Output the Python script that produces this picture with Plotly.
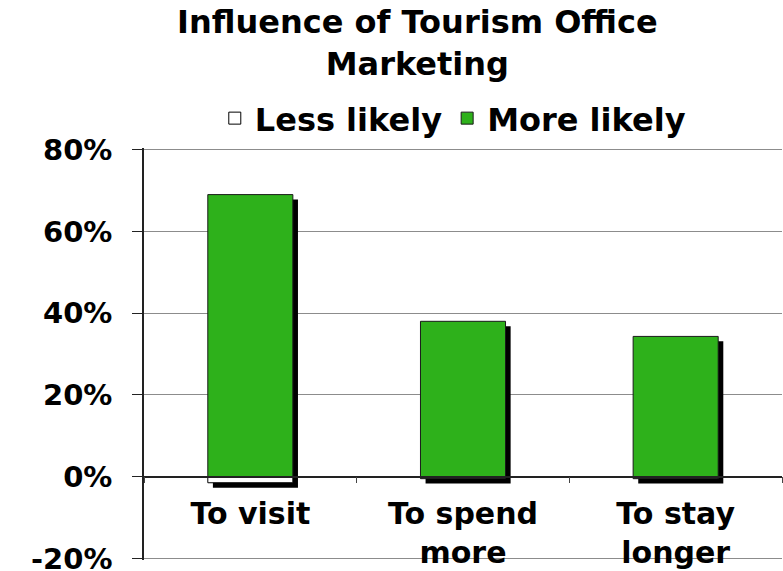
import plotly.graph_objects as go

categories = ["To visit", "To spend<br>more", "To stay<br>longer"]
less_likely = [-1.5, -0.5, -0.5]
more_likely = [69.0, 38.0, 34.3]
y_ticks = [-20, 0, 20, 40, 60, 80]
y_tick_labels = ["-20%", "0%", "20%", "40%", "60%", "80%"]
title_text = "Influence of Tourism Office<br>Marketing"

FONT = "DejaVu Sans"
GREEN = "#2EB11B"
BAR_W = 0.4
SH_X = 0.024   # shadow offset in category units
SH_Y = 1.2     # shadow offset in data units
Y_MIN, Y_MAX = -20.4, 80.4

fig = go.Figure()

# drop shadows
fig.add_trace(go.Bar(
    x=categories,
    y=[m - l for m, l in zip(more_likely, less_likely)],
    base=[l - SH_Y for l in less_likely],
    width=BAR_W, offset=-BAR_W / 2 + SH_X,
    marker=dict(color="black", line=dict(width=0)),
    showlegend=False, hoverinfo="skip",
))
fig.add_trace(go.Bar(
    x=categories, y=less_likely, name="Less likely",
    width=BAR_W, offset=-BAR_W / 2,
    marker=dict(color="white", line=dict(color="black", width=1)),
))
fig.add_trace(go.Bar(
    x=categories, y=more_likely, name="More likely",
    width=BAR_W, offset=-BAR_W / 2,
    marker=dict(color=GREEN, line=dict(color="#1a1a1a", width=1)),
))

fig.add_annotation(
    text="<b>" + title_text + "</b>", xref="paper", yref="paper",
    x=0.428, y=1.256, xanchor="center", yanchor="middle", showarrow=False,
    font=dict(family=FONT, size=32, color="black"),
)

zero_pos = (0 - Y_MIN) / (Y_MAX - Y_MIN)

fig.update_layout(
    width=783, height=571,
    barmode="overlay",
    paper_bgcolor="white", plot_bgcolor="white",
    margin=dict(l=144, r=1, t=148, b=11, autoexpand=False),
    font=dict(family=FONT, color="black"),
    legend=dict(
        orientation="h", x=0.484, xanchor="center", y=1.072, yanchor="middle",
        font=dict(family=FONT, size=32, color="black", weight="bold"),
        traceorder="normal", bgcolor="rgba(0,0,0,0)",
    ),
    xaxis=dict(
        anchor="free", position=zero_pos,
        showticklabels=True, showgrid=False,
        showline=True, linecolor="#222222", linewidth=1.5,
        ticks="outside", tickson="boundaries", ticklen=6, tickcolor="#444444",
        ticklabelstandoff=11, ticklabeloverflow="allow",
        tickfont=dict(family=FONT, size=30, color="black", weight="bold"),
        range=[-0.5, 2.5], automargin=False,
    ),
    yaxis=dict(
        range=[Y_MIN, Y_MAX], tickvals=y_ticks, ticktext=y_tick_labels,
        showgrid=True, gridcolor="#8c8c8c", gridwidth=1,
        zeroline=False,
        showline=True, linecolor="#222222", linewidth=1.5,
        ticks="outside", ticklen=10, tickcolor="#222222",
        ticklabelstandoff=14, automargin=False, ticklabeloverflow="allow",
        tickfont=dict(family=FONT, size=29, color="black", weight="bold"),
    ),
)

fig.write_html(
    "out.html",
    config={"displayModeBar": False},
    post_script="document.body.style.margin='0';document.body.style.overflow='hidden';",
)
